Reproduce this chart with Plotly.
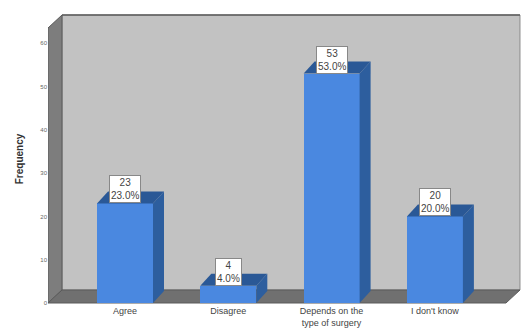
import plotly.graph_objects as go

# Survey answers and counts
categories = ["Agree", "Disagree", "Depends on the<br>type of surgery", "I don't know"]
counts = [23, 4, 53, 20]
y_ticks = [0, 10, 20, 30, 40, 50, 60]

total = sum(counts)
percents = [100.0 * c / total for c in counts]

# ---- pseudo-3D geometry (pixel sizes converted to axis units) ----
W, H = 522, 334
L_PX, R_PX, T_PX, B_PX = 48, 521, 14, 304
X0_PX, X_STEP_PX = 125, 103.3          # pixel of first category, spacing
Y0_PX, Y_UNIT_PX = 303, 4.33           # pixel of value 0, pixels per unit

x_range = [-(X0_PX - L_PX) / X_STEP_PX, (R_PX - X0_PX) / X_STEP_PX]
y_range = [-(B_PX - Y0_PX) / Y_UNIT_PX, (Y0_PX - T_PX) / Y_UNIT_PX]

wall_dx = 14 / X_STEP_PX
wall_dy = 13 / Y_UNIT_PX
bar_dx = 11 / X_STEP_PX
bar_dy = 12 / Y_UNIT_PX
bar_w = 56 / X_STEP_PX
wall_top = (Y0_PX - 15) / Y_UNIT_PX

xl, xr = x_range[0], x_range[1] - 0.01

FRONT = "#4a88e0"
SIDE = "#2d5e9e"
TOP = "#2a5896"

fig = go.Figure()

# back wall
fig.add_shape(type="rect", layer="below",
              x0=xl + wall_dx, x1=xr, y0=wall_dy, y1=wall_top,
              fillcolor="#c2c2c2", line=dict(color="#8a8a8a", width=1))
# top edge of the back wall
fig.add_shape(type="line", layer="below",
              x0=xl + wall_dx, x1=xr, y0=wall_top, y1=wall_top,
              line=dict(color="#5c5c5c", width=1.5))
# left side wall
fig.add_shape(type="path", layer="below",
              path=(f"M {xl},0 L {xl + wall_dx},{wall_dy} "
                    f"L {xl + wall_dx},{wall_top} L {xl},{wall_top - wall_dy} Z"),
              fillcolor="#7d7d7d", line=dict(color="#5a5a5a", width=1))
# floor
fig.add_shape(type="path", layer="below",
              path=(f"M {xl},0 L {xr - wall_dx},0 L {xr},{wall_dy} "
                    f"L {xl + wall_dx},{wall_dy} Z"),
              fillcolor="#707070", line=dict(color="#5a5a5a", width=1))

# front faces of the bars
xs = list(range(len(categories)))
fig.add_trace(go.Bar(x=xs, y=counts, width=bar_w,
                     marker=dict(color=FRONT, line=dict(width=0)),
                     hoverinfo="skip", showlegend=False))

# side and top faces derived from each count
for i, v in enumerate(counts):
    right = i + bar_w / 2
    left = i - bar_w / 2
    fig.add_trace(go.Scatter(
        x=[right, right + bar_dx, right + bar_dx, right, right],
        y=[0, bar_dy, v + bar_dy, v, 0],
        fill="toself", fillcolor=SIDE, mode="lines",
        line=dict(width=0, color=SIDE), hoverinfo="skip", showlegend=False))
    fig.add_trace(go.Scatter(
        x=[left, left + bar_dx, right + bar_dx, right, left],
        y=[v, v + bar_dy, v + bar_dy, v, v],
        fill="toself", fillcolor=TOP, mode="lines",
        line=dict(width=0, color=TOP), hoverinfo="skip", showlegend=False))

# value labels
for i, (v, p) in enumerate(zip(counts, percents)):
    fig.add_annotation(x=i, y=v, yanchor="bottom", xanchor="center",
                       text=f"{v}<br>{p:.1f}%", showarrow=False,
                       font=dict(family="Liberation Sans, Arial", size=10, color="#444"),
                       bgcolor="white", bordercolor="#888", borderwidth=1, borderpad=1)

fig.update_layout(
    width=W, height=H,
    margin=dict(l=L_PX, r=W - R_PX, t=T_PX, b=H - B_PX),
    paper_bgcolor="white", plot_bgcolor="white",
    bargap=0,
    xaxis=dict(range=x_range, tickvals=xs, ticktext=categories,
               showgrid=False, zeroline=False, showline=False, ticks="",
               tickfont=dict(family="Liberation Sans, Arial", size=9, color="#444"),
               fixedrange=True),
    yaxis=dict(range=y_range, tickvals=y_ticks, showgrid=False, zeroline=False,
               showline=False, ticks="",
               tickfont=dict(family="Liberation Sans, Arial", size=6, color="#666"),
               title=dict(text="<b>Frequency</b>", standoff=14,
                          font=dict(family="Liberation Sans, Arial", size=10, color="#333")),
               fixedrange=True),
)

fig.write_html("out.html")
